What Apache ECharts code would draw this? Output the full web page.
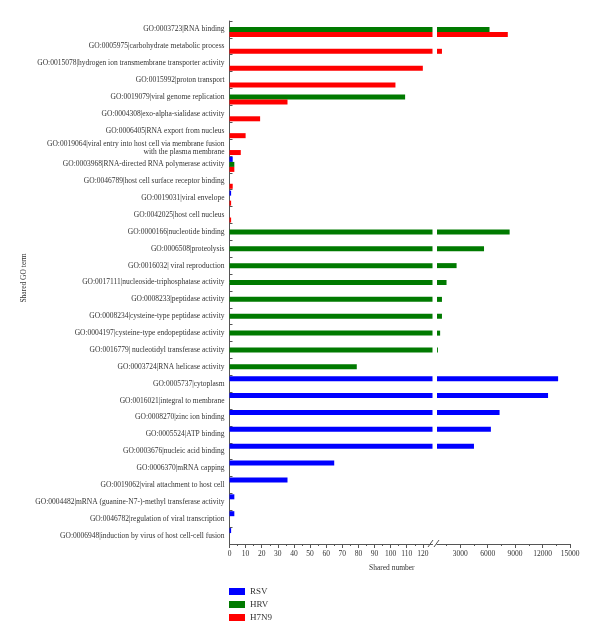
<!DOCTYPE html>
<html>
<head>
<meta charset="utf-8">
<script src="https://cdn.jsdelivr.net/npm/echarts@6/dist/echarts.min.js"></script>
<style>html,body{margin:0;padding:0;background:#fff}#c{width:600px;height:642px}</style>
</head>
<body>
<div id="c"></div>
<script>
var categories = [
  "GO:0003723|RNA binding",
  "GO:0005975|carbohydrate metabolic process",
  "GO:0015078|hydrogen ion transmembrane transporter activity",
  "GO:0015992|proton transport",
  "GO:0019079|viral genome replication",
  "GO:0004308|exo-alpha-sialidase activity",
  "GO:0006405|RNA export from nucleus",
  "GO:0019064|viral entry into host cell via membrane fusion\nwith the plasma membrane",
  "GO:0003968|RNA-directed RNA polymerase activity",
  "GO:0046789|host cell surface receptor binding",
  "GO:0019031|viral envelope",
  "GO:0042025|host cell nucleus",
  "GO:0000166|nucleotide binding",
  "GO:0006508|proteolysis",
  "GO:0016032| viral reproduction",
  "GO:0017111|nucleoside-triphosphatase activity",
  "GO:0008233|peptidase activity",
  "GO:0008234|cysteine-type peptidase activity",
  "GO:0004197|cysteine-type endopeptidase activity",
  "GO:0016779| nucleotidyl transferase activity",
  "GO:0003724|RNA helicase activity",
  "GO:0005737|cytoplasm",
  "GO:0016021|integral to membrane",
  "GO:0008270|zinc ion binding",
  "GO:0005524|ATP binding",
  "GO:0003676|nucleic acid binding",
  "GO:0006370|mRNA capping",
  "GO:0019062|viral attachment to host cell",
  "GO:0004482|mRNA (guanine-N7-)-methyl transferase activity",
  "GO:0046782|regulation of viral transcription",
  "GO:0006948|induction by virus of host cell-cell fusion"
];
var seriesNames = ["RSV", "HRV", "H7N9"];
var rsv  = [0,0,0,0,0,0,0,0,2,0,1,0, 0,0,0,0,0,0,0,0,0, 13700,12600,7300,6350,4500,65,36,3,3,1];
var hrv  = [6200,0,0,0,109,0,0,0,3,0,0,0, 8400,5600,2600,1500,1000,1000,800,560,79, 0,0,0,0,0,0,0,0,0,0];
var h7n9 = [8200,1000,120,103,36,19,10,7,3,2,1,1, 0,0,0,0,0,0,0,0,0, 0,0,0,0,0,0,0,0,0,0];
var leftTicks = [0,10,20,30,40,50,60,70,80,90,100,110,120];
var leftMinor = [5,15,25,35,45,55,65,75,85,95,105,115];
var rightTicks = [3000,6000,9000,12000,15000];
var rightMinor = [1500,4500,7500,10500,13500];

var colors = ["#0000ff", "#007a00", "#ff0000"];
var seriesData = [rsv, hrv, h7n9];
var FONT = "Liberation Serif";
var axisColor = "#555";

var chart = echarts.init(document.getElementById("c"));

function xMajor(grid, min, max, ticks) {
  return {
    type: "value", gridIndex: grid, min: min, max: max, position: "bottom",
    axisLine: { show: true, lineStyle: { color: axisColor, width: 1 } },
    axisTick: { show: true, customValues: ticks, length: 4, lineStyle: { color: axisColor } },
    axisLabel: { show: true, customValues: ticks, fontFamily: FONT, fontSize: 7.5, color: "#333", margin: 6,
      formatter: function (v) { return String(v); } },
    splitLine: { show: false }
  };
}
function xMinor(grid, min, max, ticks) {
  return {
    type: "value", gridIndex: grid, min: min, max: max, position: "bottom",
    axisLine: { show: false },
    axisTick: { show: true, customValues: ticks, length: 2, lineStyle: { color: axisColor } },
    axisLabel: { show: false },
    splitLine: { show: false }
  };
}

var series = [];
seriesNames.forEach(function (name, i) {
  [0, 2].forEach(function (xi, g) {
    series.push({
      type: "bar", name: name, xAxisIndex: xi, yAxisIndex: g,
      data: seriesData[i], barWidth: 5, barGap: "0%",
      itemStyle: { color: colors[i] }, clip: true, silent: true
    });
  });
});

chart.setOption({
  animation: false,
  grid: [
    { left: 229.5, top: 21, width: 203, bottom: 98 },
    { left: 437, top: 21, right: 30, bottom: 98 }
  ],
  xAxis: [
    xMajor(0, 0, 126, leftTicks),
    xMinor(0, 0, 126, leftMinor),
    xMajor(1, 458, 15000, rightTicks),
    xMinor(1, 458, 15000, rightMinor)
  ],
  yAxis: [
    {
      type: "category", gridIndex: 0, data: categories, inverse: true,
      axisLine: { show: true, lineStyle: { color: axisColor } },
      axisTick: { show: true, inside: true, length: 3, lineStyle: { color: axisColor } },
      axisLabel: { fontFamily: FONT, fontSize: 7.5, color: "#333", margin: 5, lineHeight: 8, interval: 0 }
    },
    {
      type: "category", gridIndex: 1, data: categories, inverse: true, show: false
    }
  ],
  legend: {
    data: seriesNames, orient: "vertical", left: 229, top: 587, padding: 0,
    itemWidth: 16, itemHeight: 7, itemGap: 4, icon: "rect",
    textStyle: { fontFamily: FONT, fontSize: 9, color: "#333" }
  },
  graphic: [
    { type: "text", left: 369, top: 564, style: { text: "Shared number", font: "7.5px 'Liberation Serif'", fill: "#333" } },
    { type: "text", x: 24, y: 278, rotation: Math.PI / 2, style: { text: "Shared GO term", font: "7.5px 'Liberation Serif'", fill: "#333", align: "center", verticalAlign: "middle" } },
    { type: "rect", shape: { x: 432, y: 541, width: 5, height: 6 }, style: { fill: "#fff" } },
    { type: "line", shape: { x1: 428, y1: 547, x2: 433, y2: 540 }, style: { stroke: axisColor, lineWidth: 1 } },
    { type: "line", shape: { x1: 434, y1: 547, x2: 439, y2: 540 }, style: { stroke: axisColor, lineWidth: 1 } }
  ],
  series: series
});
</script>
</body>
</html>
